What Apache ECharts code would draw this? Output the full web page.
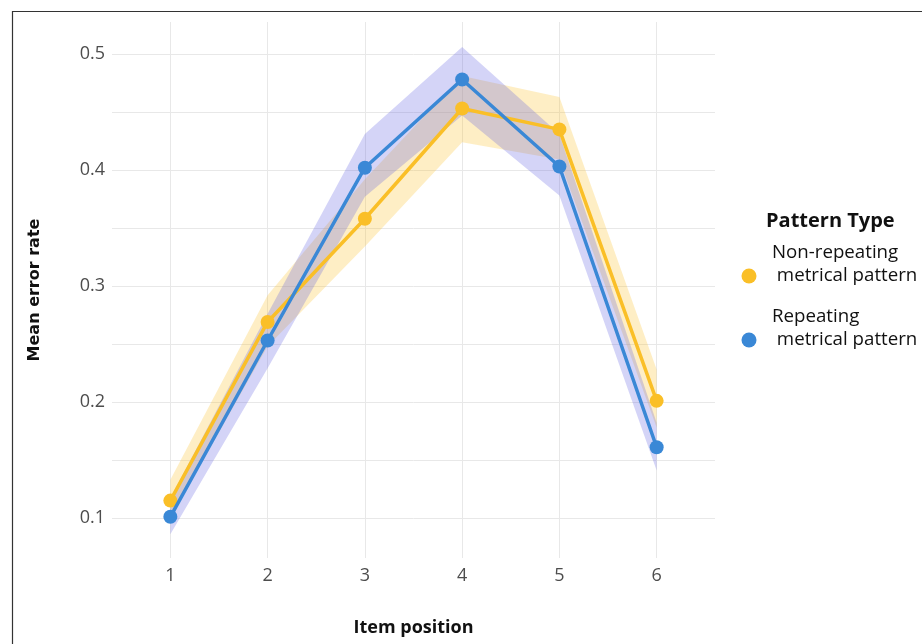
<!DOCTYPE html>
<html>
<head>
<meta charset="utf-8">
<script src="https://cdn.jsdelivr.net/npm/echarts@6/dist/echarts.min.js"></script>
<style>
html,body{margin:0;padding:0;background:#fff;}
#chart{width:922px;height:644px;}
</style>
</head>
<body>
<div id="chart"></div>
<script>
// ---- data ----
var positions = [1, 2, 3, 4, 5, 6];
var nonRepMean = [0.115, 0.269, 0.358, 0.453, 0.435, 0.201];
var nonRepLow  = [0.100, 0.248, 0.334, 0.424, 0.409, 0.178];
var nonRepHigh = [0.133, 0.292, 0.392, 0.481, 0.463, 0.228];
var repMean = [0.101, 0.253, 0.402, 0.478, 0.403, 0.161];
var repLow  = [0.086, 0.229, 0.377, 0.447, 0.378, 0.141];
var repHigh = [0.117, 0.276, 0.431, 0.506, 0.431, 0.182];
var yTickLabels = [0.1, 0.2, 0.3, 0.4, 0.5];
var yGridValues = [0.1, 0.15, 0.2, 0.25, 0.3, 0.35, 0.4, 0.45, 0.5];
var seriesNames = ['Non-repeating\n metrical pattern', 'Repeating\n metrical pattern'];

var YELLOW = '#FABF27';
var BLUE = '#3A88D6';

function pairs(xs, ys) { return xs.map(function (x, i) { return [x, ys[i]]; }); }

function band(lo, hi, color) {
  var rows = positions.map(function (x, i) { return [x, lo[i], hi[i]]; });
  return {
    type: 'custom', silent: true, z: 1,
    data: rows,
    encode: { x: 0, y: [1, 2] },
    renderItem: function (params, api) {
      if (params.dataIndex !== 0) return null;
      var top = [], bot = [];
      for (var i = 0; i < rows.length; i++) {
        top.push(api.coord([rows[i][0], rows[i][2]]));
        bot.push(api.coord([rows[i][0], rows[i][1]]));
      }
      return { type: 'polygon', shape: { points: top.concat(bot.reverse()) }, style: { fill: color } };
    }
  };
}

var chart = echarts.init(document.getElementById('chart'));
var font = '"Open Sans", sans-serif';
var option = {
  animation: false,
  backgroundColor: '#ffffff',
  grid: { left: 112, right: 207, top: 22, bottom: 86 },
  xAxis: {
    type: 'value', min: 0.4, max: 6.6,
    name: 'Item position', nameLocation: 'middle', nameGap: 61,
    nameTextStyle: { fontFamily: font, fontWeight: 'bold', fontSize: 18, color: '#111' },
    axisLine: { show: false },
    axisTick: { show: false, customValues: positions },
    axisLabel: { customValues: positions, color: '#4d4d4d', fontSize: 18, fontFamily: font, margin: 9 },
    splitLine: { show: true, lineStyle: { color: '#e8e8e8', width: 1 } }
  },
  yAxis: {
    type: 'value', min: 0.0655, max: 0.5276,
    name: 'Mean error rate', nameLocation: 'middle', nameGap: 69, nameRotate: 90,
    nameTextStyle: { fontFamily: '"DejaVu Sans", sans-serif', fontWeight: 'bold', fontSize: 16, color: '#111' },
    axisLine: { show: false },
    axisTick: { show: false, customValues: yGridValues },
    axisLabel: { customValues: yTickLabels, color: '#4d4d4d', fontSize: 18, fontFamily: font, margin: 7,
      formatter: function (v) { return v.toFixed(1); } },
    splitLine: { show: true, lineStyle: { color: '#e8e8e8', width: 1 } }
  },
  series: [
    band(nonRepLow, nonRepHigh, 'rgba(251,193,45,0.28)'),
    band(repLow, repHigh, 'rgba(95,95,225,0.27)'),
    { name: seriesNames[0], type: 'line', data: pairs(positions, nonRepMean), symbol: 'circle', symbolSize: 14,
      color: YELLOW, lineStyle: { width: 3.5, color: YELLOW }, itemStyle: { color: YELLOW }, z: 3 },
    { name: seriesNames[1], type: 'line', data: pairs(positions, repMean), symbol: 'circle', symbolSize: 14,
      color: BLUE, lineStyle: { width: 3.5, color: BLUE }, itemStyle: { color: BLUE }, z: 4 }
  ],
  graphic: [
    { type: 'rect', left: 10, top: 9, shape: { width: 930, height: 650 },
      style: { fill: 'none', stroke: '#333', lineWidth: 1.2 }, silent: true, z: 100 },
    { type: 'text', left: 766, top: 211, style: { text: 'Pattern Type', font: 'bold 20px "Open Sans", sans-serif', fill: '#111' } },
    { type: 'circle', shape: { cx: 749, cy: 276, r: 7.5 }, style: { fill: YELLOW } },
    { type: 'text', left: 772, top: 241, style: { text: seriesNames[0], font: '18.7px "Open Sans", sans-serif', fill: '#111', lineHeight: 23 } },
    { type: 'circle', shape: { cx: 749, cy: 340, r: 7.5 }, style: { fill: BLUE } },
    { type: 'text', left: 772, top: 305, style: { text: seriesNames[1], font: '18.7px "Open Sans", sans-serif', fill: '#111', lineHeight: 23 } }
  ]
};
chart.setOption(option);
</script>
</body>
</html>
